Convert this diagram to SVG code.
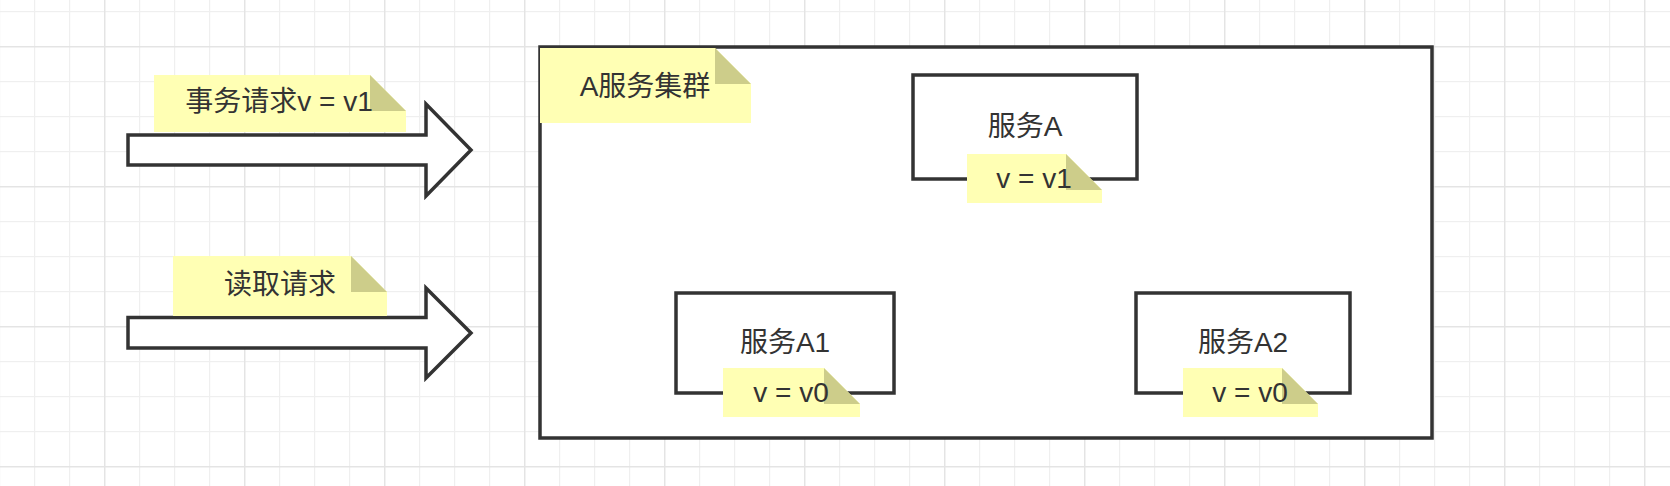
<svg xmlns="http://www.w3.org/2000/svg" width="1670" height="486" viewBox="0 0 1670 486">
  <style>
    .box { fill: #ffffff; stroke: #333333; stroke-width: 3.5; }
    .arrow { fill: #ffffff; stroke: #333333; stroke-width: 3.5; stroke-linejoin: miter; }
    .note { fill: #ffffb4; stroke: none; }
    .fold { fill: #cdcd8a; stroke: none; }
    .label { font-family: "Liberation Sans", "Noto Sans CJK SC", sans-serif; font-size: 28px; fill: #333333; text-anchor: middle; }
  </style>
  <defs>
    <pattern id="minor" patternUnits="userSpaceOnUse" x="34" y="11" width="35" height="35">
      <rect x="0" y="0" width="35" height="1.2" fill="#efefef"/>
      <rect x="0" y="0" width="1.2" height="35" fill="#efefef"/>
    </pattern>
    <pattern id="major" patternUnits="userSpaceOnUse" x="104" y="46" width="140" height="140">
      <rect x="0" y="0" width="140" height="1.4" fill="#e4e4e4"/>
      <rect x="0" y="0" width="1.4" height="140" fill="#e4e4e4"/>
    </pattern>
  </defs>

  <g id="background">
    <rect x="0" y="0" width="1670" height="486" fill="#ffffff"/>
    <rect x="0" y="0" width="1670" height="486" fill="url(#minor)"/>
    <rect x="0" y="0" width="1670" height="486" fill="url(#major)"/>
  </g>

  <g id="cluster">
    <rect class="box" x="540" y="47" width="892" height="391"/>
  </g>

  <g id="connectors">
    <polygon id="arrow-tx" class="arrow" points="128,135 426,135 426,104 471,150 426,196 426,165 128,165"/>
    <polygon id="arrow-read" class="arrow" points="128,317.5 426,317.5 426,288 471,333 426,378 426,348 128,348"/>
  </g>

  <g id="note-tx">
    <path class="note" d="M154,75 H370 L406,111 V132 H154 Z"/>
    <path class="fold" d="M370,75 V111 H406 Z"/>
    <text class="label" x="279" y="111">事务请求v = v1</text>
  </g>

  <g id="note-read">
    <path class="note" d="M173,256 H351 L387,292 V316 H173 Z"/>
    <path class="fold" d="M351,256 V292 H387 Z"/>
    <text class="label" x="280" y="294">读取请求</text>
  </g>

  <g id="note-cluster">
    <path class="note" d="M540,48 H715 L751,84 V123 H540 Z"/>
    <path class="fold" d="M715,48 V84 H751 Z"/>
    <text class="label" x="645" y="96">A服务集群</text>
  </g>

  <g id="service-a">
    <rect class="box" x="913" y="75" width="224" height="104"/>
    <text class="label" x="1025" y="136">服务A</text>
  </g>

  <g id="note-a">
    <path class="note" d="M967,154 H1066 L1102,190 V203 H967 Z"/>
    <path class="fold" d="M1066,154 V190 H1102 Z"/>
    <text class="label" x="1034" y="188">v = v1</text>
  </g>

  <g id="service-a1">
    <rect class="box" x="676" y="293" width="218" height="100"/>
    <text class="label" x="785" y="352">服务A1</text>
  </g>

  <g id="note-a1">
    <path class="note" d="M723,368 H824 L860,404 V417 H723 Z"/>
    <path class="fold" d="M824,368 V404 H860 Z"/>
    <text class="label" x="791" y="402">v = v0</text>
  </g>

  <g id="service-a2">
    <rect class="box" x="1136" y="293" width="214" height="100"/>
    <text class="label" x="1243" y="352">服务A2</text>
  </g>

  <g id="note-a2">
    <path class="note" d="M1183,368 H1282 L1318,404 V417 H1183 Z"/>
    <path class="fold" d="M1282,368 V404 H1318 Z"/>
    <text class="label" x="1250" y="402">v = v0</text>
  </g>
</svg>
